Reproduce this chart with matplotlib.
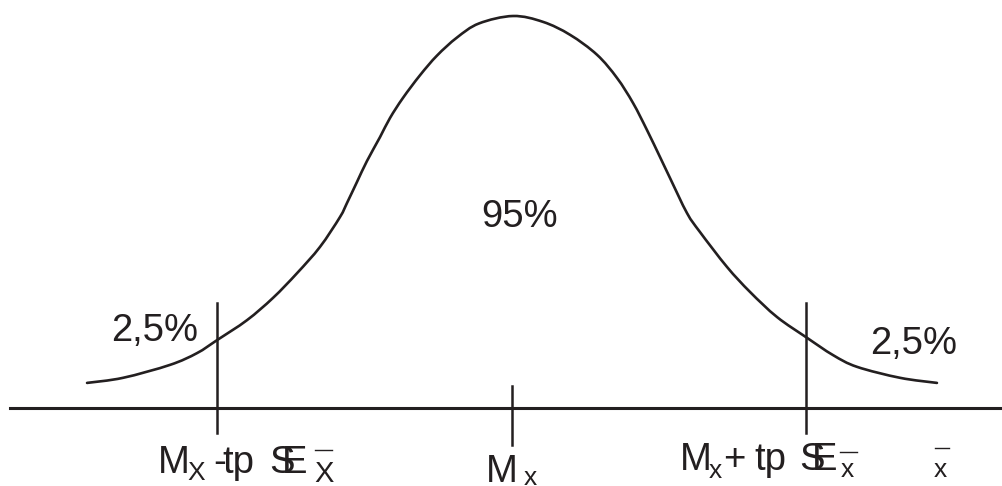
import matplotlib
matplotlib.use("Agg")
import matplotlib.pyplot as plt
import matplotlib.transforms as mtransforms
from matplotlib.lines import Line2D
from matplotlib.path import Path
from matplotlib.patches import PathPatch
from matplotlib import font_manager

# ---- data (x in SE units around the mean, y = relative density) ----
curve_z = [-2.833, -2.593, -2.28, -2.10, -1.967, -1.767, -1.593, -1.433, -1.28,
           -1.147, -1.10, -1.033, -0.967, -0.88, -0.813, -0.727, -0.613, -0.50,
           -0.367, -0.22, 0.007, 0.207, 0.387, 0.567, 0.70, 0.807, 0.90, 0.987,
           1.053, 1.167, 1.253, 1.433, 1.587, 1.767, 1.967, 2.14, 2.30, 2.587, 2.833]
curve_h = [0.064, 0.077, 0.110, 0.140, 0.173, 0.224, 0.281, 0.344, 0.411,
           0.487, 0.523, 0.577, 0.630, 0.691, 0.740, 0.791, 0.849, 0.899,
           0.945, 0.981, 1.0, 0.985, 0.952, 0.901, 0.842, 0.778, 0.709, 0.640,
           0.587, 0.497, 0.449, 0.360, 0.296, 0.232, 0.179, 0.135, 0.105, 0.077, 0.064]
t_crit = [-1.967, 1.963]
mean_pos = 0.0
center_label = "95%"
tail_label = "2,5%"

INK = "#231f20"
W, H = 1002, 486
fig = plt.figure(figsize=(W / 100, H / 100), dpi=100)
ax = fig.add_axes([0, 0, 1, 1])
ax.set_xlim(-512 / 150, (W - 512) / 150)
ax.set_ylim(-78 / 392, 408 / 392)
ax.axis("off")

# pixel transform for annotation placement
pix = mtransforms.Affine2D().scale(1 / W, -1 / H).translate(0, 1) + fig.transFigure

# smooth curve through the read points (Catmull-Rom rendered as Bezier path)
pts = list(zip(curve_z, curve_h))
verts = [pts[0]]
codes = [Path.MOVETO]
n = len(pts)
for i in range(n - 1):
    p0 = pts[max(i - 1, 0)]
    p1 = pts[i]
    p2 = pts[i + 1]
    p3 = pts[min(i + 2, n - 1)]
    c1 = (p1[0] + (p2[0] - p0[0]) / 6, p1[1] + (p2[1] - p0[1]) / 6)
    c2 = (p2[0] - (p3[0] - p1[0]) / 6, p2[1] - (p3[1] - p1[1]) / 6)
    verts += [c1, c2, p2]
    codes += [Path.CURVE4] * 3
ax.add_patch(PathPatch(Path(verts, codes), fill=False, edgecolor=INK, lw=1.9,
                       capstyle="round", joinstyle="round"))

# baseline axis
fig.add_artist(Line2D([10, 1002], [408, 408], transform=pix, color=INK, lw=2.2))
# mean tick
ax.plot([mean_pos, mean_pos], [(408 - 386) / 392, (408 - 445) / 392], color=INK, lw=1.8)
# critical lines
for t in t_crit:
    ax.plot([t, t], [(408 - 303) / 392, (408 - 433) / 392], color=INK, lw=1.8)

names = {f.name for f in font_manager.fontManager.ttflist}
FONT = "Liberation Sans"
NARROW = "Liberation Sans Narrow" if "Liberation Sans Narrow" in names else FONT
BIG = 27.5


def txt(x, y, s, size=BIG, fam=NARROW):
    fig.text(x, y, s, transform=pix, ha="left", va="baseline", fontsize=size,
             family=fam, color=INK)


def bar(x0, x1, y):
    fig.add_artist(Line2D([x0, x1], [y, y], transform=pix, color=INK, lw=1.0))


# percentages
fig.text(520, 217, center_label, transform=pix, ha="center", va="center",
         fontsize=BIG, family=FONT, color=INK)
fig.text(155, 331, tail_label, transform=pix, ha="center", va="center",
         fontsize=BIG, family=FONT, color=INK)
fig.text(914, 344, tail_label, transform=pix, ha="center", va="center",
         fontsize=BIG, family=FONT, color=INK)

# middle label Mx
txt(486, 482, "M")
txt(524, 485, "x", 19)

# left label  Mx -tp SE_x
txt(158, 473, "M")
txt(187, 480, "X", 19)
txt(213, 473, "-")
txt(222, 473, "tp")
txt(269, 473, "S")
txt(282, 473, "E")
txt(314, 482, "X", 21)
bar(315, 332, 450)

# right label  Mx+ tp SE_x
txt(680, 470, "M")
txt(709, 478, "x", 19)
txt(723, 470, "+")
txt(754, 470, "tp")
txt(799, 470, "S")
txt(812, 470, "E")
txt(841, 477, "x", 19)
bar(840, 857, 452)

# axis label x-bar
txt(934, 477, "x", 19)
bar(935, 949, 448)

fig.savefig("out.png", dpi=100, facecolor="white")
